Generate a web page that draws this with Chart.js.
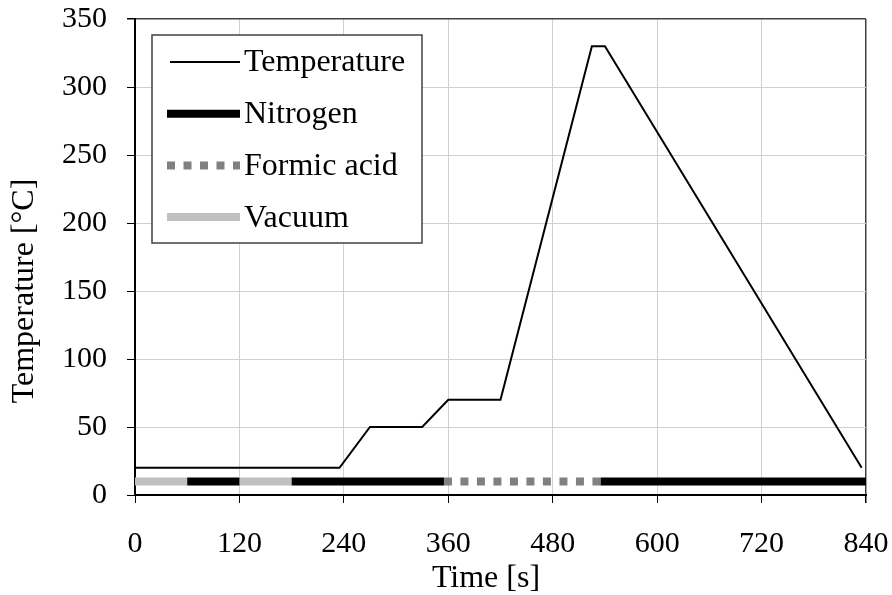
<!DOCTYPE html>
<html>
<head>
<meta charset="utf-8">
<script src="https://cdn.jsdelivr.net/npm/chart.js@4.4.0/dist/chart.umd.min.js"></script>
<style>
  html, body { margin: 0; padding: 0; background: #fff; }
  #wrap { width: 892px; height: 595px; }
</style>
</head>
<body>
<div id="wrap"><canvas id="processChart"></canvas></div>
<script>
// temperature profile (time in s, temperature in °C)
const tempTimes = [0, 235, 270, 330, 360, 420, 525, 540, 835];
const tempValues = [20, 20, 50, 50, 70, 70, 330, 330, 20];

// atmosphere phases shown as a band along the bottom
const bandLevel = 10;
const nitrogenSpans = [[60, 120], [180, 355], [535, 840]];
const formicSpans = [[355, 535]];
const vacuumSpans = [[0, 60], [120, 180]];

const xTicks = [0, 120, 240, 360, 480, 600, 720, 840];
const yTicks = [0, 50, 100, 150, 200, 250, 300, 350];

const xTitle = 'Time [s]';
const yTitle = 'Temperature [°C]';

const serif = '"Liberation Serif", "Times New Roman", serif';

function spansToPoints(spans) {
    const pts = [];
    spans.forEach((s, i) => {
        if (i > 0) pts.push({ x: s[0], y: null });
        pts.push({ x: s[0], y: bandLevel });
        pts.push({ x: s[1], y: bandLevel });
    });
    return pts;
}

// axis titles placed like the original (not centred on the plot area)
const axisTitles = {
    id: 'axisTitles',
    afterDraw(chart) {
        const ctx = chart.ctx;
        ctx.save();
        ctx.font = '32px ' + serif;
        ctx.fillStyle = '#000';
        ctx.textAlign = 'center';
        ctx.textBaseline = 'middle';
        ctx.fillText(xTitle, 486, 579);
        ctx.translate(25, 291);
        ctx.rotate(-Math.PI / 2);
        ctx.fillText(yTitle, 0, 0);
        ctx.restore();
    }
};

// legend drawn inside the plot area, top left
const boxLegend = {
    id: 'boxLegend',
    afterDatasetsDraw(chart) {
        const ctx = chart.ctx;
        const x0 = 152, y0 = 35, w = 270, h = 208;
        ctx.save();
        ctx.fillStyle = '#fff';
        ctx.fillRect(x0, y0, w, h);
        ctx.strokeStyle = '#404040';
        ctx.lineWidth = 1.5;
        ctx.strokeRect(x0, y0, w, h);
        ctx.font = '32px ' + serif;
        ctx.textBaseline = 'middle';
        ctx.fillStyle = '#000';
        chart.data.datasets.forEach((ds, i) => {
            const cy = 62 + i * 51.7;
            ctx.beginPath();
            ctx.strokeStyle = ds.borderColor;
            ctx.lineWidth = ds.borderWidth;
            ctx.setLineDash(ds.borderDash || []);
            ctx.lineCap = 'butt';
            ctx.moveTo(ds.borderWidth > 3 ? 167 : 170, cy);
            ctx.lineTo(240, cy);
            ctx.stroke();
            ctx.setLineDash([]);
            ctx.fillText(ds.label, 244, cy + 1);
        });
        ctx.restore();
    }
};

function initializeChart() {
    const canvas = document.getElementById('processChart');
    new Chart(canvas, {
        type: 'line',
        data: {
            datasets: [{
                label: 'Temperature',
                data: tempTimes.map((t, i) => ({ x: t, y: tempValues[i] })),
                borderColor: '#000',
                borderWidth: 2,
                pointRadius: 0
            }, {
                label: 'Nitrogen',
                data: spansToPoints(nitrogenSpans),
                borderColor: '#000',
                borderWidth: 8,
                borderCapStyle: 'butt',
                pointRadius: 0
            }, {
                label: 'Formic acid',
                data: spansToPoints(formicSpans),
                borderColor: '#808080',
                borderWidth: 8,
                borderDash: [8, 8.5],
                borderCapStyle: 'butt',
                pointRadius: 0
            }, {
                label: 'Vacuum',
                data: spansToPoints(vacuumSpans),
                borderColor: '#c0c0c0',
                borderWidth: 8,
                borderCapStyle: 'butt',
                pointRadius: 0
            }]
        },
        options: {
            responsive: true,
            maintainAspectRatio: false,
            animation: false,
            layout: { padding: { top: 19, right: 26, left: 0, bottom: 0 } },
            plugins: {
                legend: { display: false },
                tooltip: { enabled: false }
            },
            scales: {
                x: {
                    type: 'linear',
                    min: 0,
                    max: 840,
                    afterBuildTicks: s => { s.ticks = xTicks.map(v => ({ value: v })); },
                    afterFit: s => {
                        s.height = 100;
                        s.paddingLeft = 0;
                        s.paddingRight = 0;
                    },
                    ticks: {
                        color: '#000',
                        padding: 23,
                        maxRotation: 0,
                        font: { family: serif, size: 30 }
                    },
                    grid: {
                        color: c => c.tick && c.tick.value === 840 ? '#404040' : '#d0d0d0',
                        lineWidth: c => c.tick && c.tick.value === 840 ? 1.5 : 1,
                        tickColor: '#000',
                        tickLength: 8
                    },
                    border: { color: '#000', width: 2 }
                },
                y: {
                    min: 0,
                    max: 350,
                    afterBuildTicks: s => { s.ticks = yTicks.map(v => ({ value: v })); },
                    afterFit: s => {
                        s.width = 135;
                        s.paddingTop = 0;
                        s.paddingBottom = 0;
                    },
                    ticks: {
                        color: '#000',
                        padding: 20,
                        font: { family: serif, size: 30 }
                    },
                    grid: {
                        color: c => c.tick && c.tick.value === 350 ? '#404040' : '#d0d0d0',
                        lineWidth: c => c.tick && c.tick.value === 350 ? 1.5 : 1,
                        tickColor: '#000',
                        tickLength: 8
                    },
                    border: { color: '#000', width: 2 }
                }
            }
        },
        plugins: [boxLegend, axisTitles]
    });
}

if (document.readyState === 'loading') {
    document.addEventListener('DOMContentLoaded', initializeChart);
} else {
    initializeChart();
}
</script>
</body>
</html>
